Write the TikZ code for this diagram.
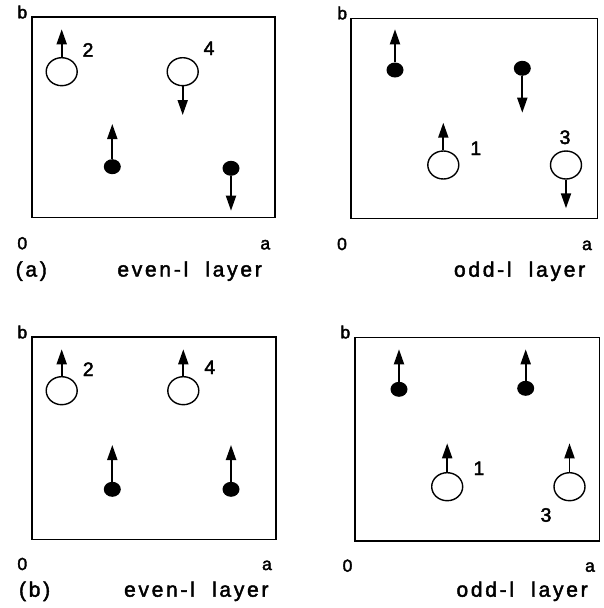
\documentclass[tikz,border=0pt]{standalone}
\usepackage{fontspec}
\setmainfont{Liberation Sans}
\newfontfamily\capfont[LetterSpace=13,FakeBold=2]{Liberation Sans}
\newfontfamily\lblfont[FakeBold=2.2]{Liberation Sans}
\usetikzlibrary{arrows.meta,shapes.geometric}
\tikzset{
  frame/.style={draw,line width=1.6pt},
  opencirc/.style={ellipse,draw,line width=1.4pt,fill=white,minimum width=31pt,minimum height=28pt,inner sep=0pt},
  dotc/.style={ellipse,fill=black,minimum width=17pt,minimum height=15pt,inner sep=0pt},
  spin/.style={line width=1.9pt,-{Triangle[length=15pt,width=10pt]}},
  axl/.style={anchor=base,font=\lblfont\fontsize{17.5}{19}\selectfont,inner sep=0pt},
  numl/.style={anchor=base,font=\lblfont\fontsize{19.5}{21}\selectfont,inner sep=0pt},
  capl/.style={anchor=base,font=\capfont\fontsize{21}{24}\selectfont,inner sep=0pt}
}
\begin{document}
\begin{tikzpicture}[x=1pt,y=-1pt]
\useasboundingbox (0,0) rectangle (604,608);
% ---------- top left ----------
\draw[frame] (31.7,16.7) rectangle (275,217.3);
\node[axl] (tlb) at (22.3,18.3) {b};
\node[axl] (tl0) at (22.3,249.3) {0};
\node[axl] (tla) at (265.3,249.3) {a};
\node[capl] (tlcap) at (31.3,276.5) {(a)};
\node[capl] (tllay) at (189.6,276.5) {even-l\ \ layer};
\node[opencirc] (tlc2) at (61.7,71.7) {};
\coordinate (tlc2t) at (61.7,29.3);
\draw[spin] (tlc2.north) -- (tlc2t);
\node[numl] (tll2) at (88,56.7) {2};
\node[opencirc] (tlc4) at (182.7,71.7) {};
\coordinate (tlc4t) at (182.7,115);
\draw[spin] (tlc4.south) -- (tlc4t);
\node[numl] (tll4) at (209,55) {4};
\node[dotc] (tld1) at (112.3,166.7) {};
\coordinate (tld1t) at (112.3,124);
\draw[spin] (tld1.north) -- (tld1t);
\node[dotc] (tld2) at (231,168.3) {};
\coordinate (tld2t) at (231,210.7);
\draw[spin] (tld2.south) -- (tld2t);
% ---------- top right ----------
\draw[frame] (350.7,18.3) rectangle (597.3,218.3);
\node[axl] (trb) at (342.2,19.3) {b};
\node[axl] (tr0) at (342,250) {0};
\node[axl] (tra) at (587,250) {a};
\node[capl] (trlay) at (519.6,276.7) {odd-l\ \ layer};
\node[dotc] (trd1) at (395,70) {};
\coordinate (trd1t) at (395,29.3);
\draw[spin] (trd1.north) -- (trd1t);
\node[dotc] (trd2) at (522.3,68.3) {};
\coordinate (trd2t) at (522.3,112.7);
\draw[spin] (trd2.south) -- (trd2t);
\node[opencirc] (trc1) at (443.3,165) {};
\coordinate (trc1t) at (443.3,122.7);
\draw[spin] (trc1.north) -- (trc1t);
\node[numl] (trl1) at (475.8,155) {1};
\node[opencirc] (trc3) at (566,165) {};
\coordinate (trc3t) at (566,208.3);
\draw[spin] (trc3.south) -- (trc3t);
\node[numl] (trl3) at (565,144) {3};
% ---------- bottom left ----------
\draw[frame] (31.7,336.7) rectangle (276,539.3);
\node[axl] (blb) at (22.3,338.3) {b};
\node[axl] (bl0) at (22.3,570) {0};
\node[axl] (bla) at (267,570) {a};
\node[capl] (blcap) at (34.6,596.7) {(b)};
\node[capl] (bllay) at (196.3,596.7) {even-l\ \ layer};
\node[opencirc] (blc2) at (61.7,390.7) {};
\coordinate (blc2t) at (61.7,349.3);
\draw[spin] (blc2.north) -- (blc2t);
\node[numl] (bll2) at (88.3,376) {2};
\node[opencirc] (blc4) at (183.3,390.7) {};
\coordinate (blc4t) at (183.3,349.3);
\draw[spin] (blc4.north) -- (blc4t);
\node[numl] (bll4) at (209.8,374) {4};
\node[dotc] (bld1) at (112.3,489.3) {};
\coordinate (bld1t) at (112.3,445);
\draw[spin] (bld1.north) -- (bld1t);
\node[dotc] (bld2) at (231,489.3) {};
\coordinate (bld2t) at (231,445);
\draw[spin] (bld2.north) -- (bld2t);
% ---------- bottom right ----------
\draw[frame] (355,337.3) rectangle (599.5,540.7);
\node[axl] (brb) at (345.3,338.3) {b};
\node[axl] (br0) at (347.5,571.7) {0};
\node[axl] (bra) at (590,571.7) {a};
\node[capl] (brlay) at (522.1,596.7) {odd-l\ \ layer};
\node[dotc] (brd1) at (399,389.3) {};
\coordinate (brd1t) at (399,349.3);
\draw[spin] (brd1.north) -- (brd1t);
\node[dotc] (brd2) at (525.7,388.3) {};
\coordinate (brd2t) at (525.7,349.3);
\draw[spin] (brd2.north) -- (brd2t);
\node[opencirc] (brc1) at (447.2,486.7) {};
\coordinate (brc1t) at (447.2,443.3);
\draw[spin] (brc1.north) -- (brc1t);
\node[numl] (brl1) at (479,475) {1};
\node[opencirc] (brc3) at (569.5,486.7) {};
\coordinate (brc3t) at (569.5,443.3);
\draw[spin] (brc3.north) -- (brc3t);
\node[numl] (brl3) at (546,521.7) {3};
\end{tikzpicture}
\end{document}
